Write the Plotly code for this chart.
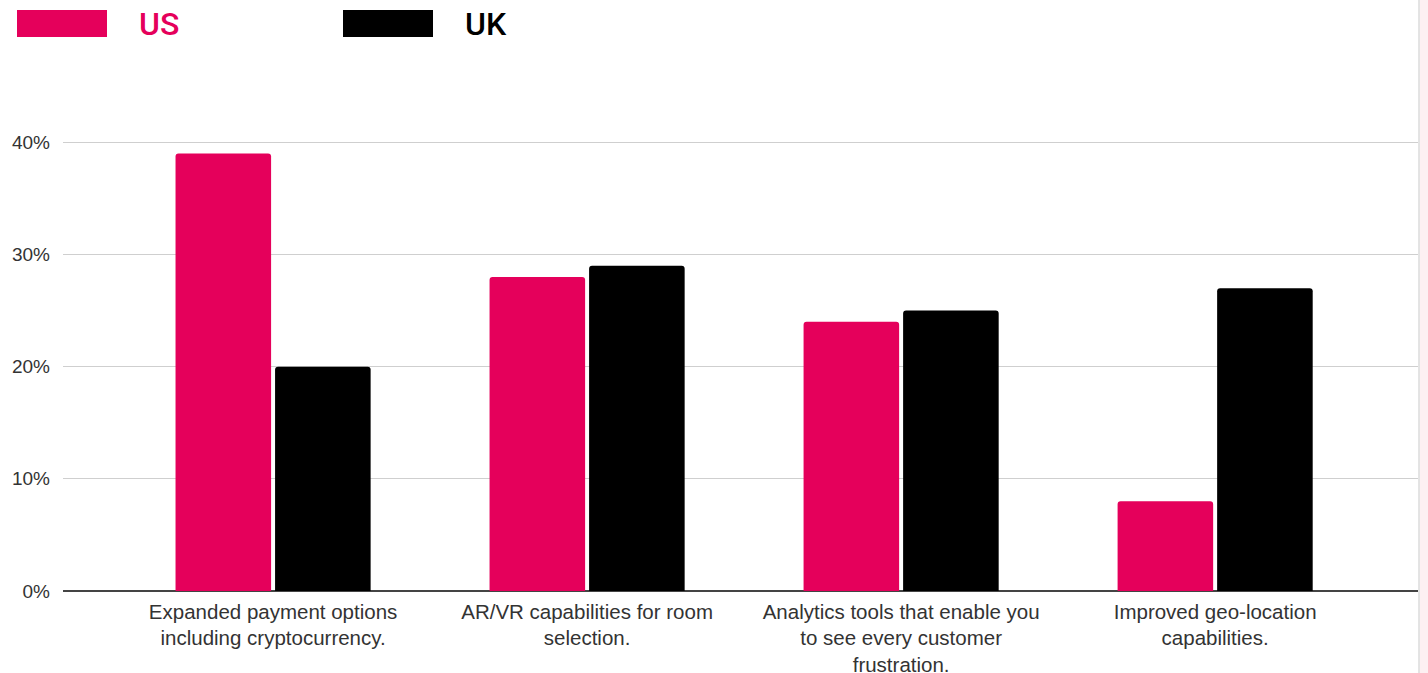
import plotly.graph_objects as go

# Survey results: share of respondents per feature, by country
categories = [
    "Expanded payment options<br>including cryptocurrency.",
    "AR/VR capabilities for room<br>selection.",
    "Analytics tools that enable you<br>to see every customer<br>frustration.",
    "Improved geo-location<br>capabilities.",
]
us_values = [39, 28, 24, 8]
uk_values = [20, 29, 25, 27]
y_ticks = [0, 10, 20, 30, 40]
y_tick_labels = ["0%", "10%", "20%", "30%", "40%"]

PINK = "#E5005B"
BLACK = "#000000"
W, H = 1428, 673
ML, MR, MT, MB = 63, 10, 139, 82

fig = go.Figure()
fig.add_trace(go.Bar(x=categories, y=us_values, name="US", marker_color=PINK,
                     marker_line_width=0, showlegend=False))
fig.add_trace(go.Bar(x=categories, y=uk_values, name="UK", marker_color=BLACK,
                     marker_line_width=0, showlegend=False))

# Convert page pixels to paper coordinates for the custom legend
pw, ph = W - ML - MR, H - MT - MB
def px(x):
    return (x - ML) / pw
def py(y):
    return (H - MB - y) / ph

shapes = [
    dict(type="rect", xref="paper", yref="paper", x0=px(17), x1=px(107),
         y0=py(37), y1=py(10), fillcolor=PINK, line_width=0),
    dict(type="rect", xref="paper", yref="paper", x0=px(343), x1=px(433),
         y0=py(37), y1=py(10), fillcolor=BLACK, line_width=0),
    # right-hand border strip
    dict(type="rect", xref="paper", yref="paper", x0=px(1420), x1=px(1428),
         y0=py(673), y1=py(0), fillcolor="#FDF0F2", line_width=0),
    dict(type="line", xref="paper", yref="paper", x0=px(1419), x1=px(1419),
         y0=py(673), y1=py(0), line=dict(color="#C8C8C8", width=1)),
]
annotations = [
    dict(text="US", xref="paper", yref="paper", x=px(137), y=py(24),
         xanchor="left", yanchor="middle", showarrow=False,
         font=dict(family="Roboto", size=32, color=PINK, weight=500)),
    dict(text="UK", xref="paper", yref="paper", x=px(463), y=py(24),
         xanchor="left", yanchor="middle", showarrow=False,
         font=dict(family="Roboto", size=32, color=BLACK, weight=500)),
]

fig.update_layout(
    width=W, height=H,
    margin=dict(l=ML, r=MR, t=MT, b=MB, pad=0, autoexpand=False),
    paper_bgcolor="white", plot_bgcolor="white",
    barmode="group", bargap=0.366, bargroupgap=0.04, barcornerradius=3,
    shapes=shapes, annotations=annotations,
    font=dict(family="Liberation Sans", color="#333333"),
)
fig.update_xaxes(
    range=[-0.669, 3.646], showgrid=False, showline=False, zeroline=False,
    ticks="", ticklabelstandoff=6, automargin=False,
    tickfont=dict(family="Liberation Sans", size=20.5, color="#333333"),
)
fig.update_yaxes(
    range=[0, 40.3], tickvals=y_ticks, ticktext=y_tick_labels,
    showgrid=True, gridcolor="#CFCFCF", gridwidth=1,
    zeroline=True, zerolinecolor="#444444", zerolinewidth=1.5,
    showline=False, ticks="", ticklabelstandoff=12, automargin=False,
    tickfont=dict(family="Liberation Sans", size=19, color="#333333"),
)

fig.write_html("out.html")
